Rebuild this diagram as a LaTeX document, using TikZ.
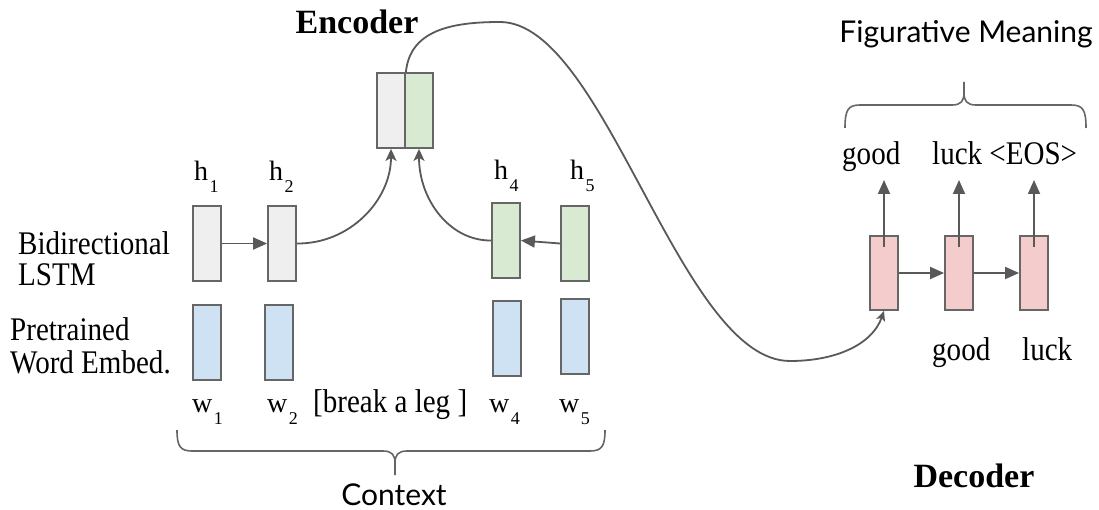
\documentclass[tikz,border=0pt]{standalone}
\usepackage{fontspec}
\setmainfont{Liberation Serif}
\newfontfamily\tallserif[FakeStretch=0.88]{Liberation Serif}
\newfontfamily\labelsans{Lato}
\usetikzlibrary{arrows.meta}

\definecolor{edgegray}{HTML}{666666}
\definecolor{linegray}{HTML}{595959}
\definecolor{fwdfill}{HTML}{EFEFEF}
\definecolor{bwdfill}{HTML}{D9EAD3}
\definecolor{embfill}{HTML}{CFE2F3}
\definecolor{decfill}{HTML}{F4CCCC}

\newcommand\lowsub[1]{\kern1.5pt\raisebox{-12pt}{\fontsize{18}{18}\selectfont #1}}

\tikzset{
  cell/.style={draw=edgegray, line width=1.8pt, inner sep=0pt,
               minimum width=28pt, minimum height=75pt},
  fwdcell/.style={cell, fill=fwdfill},
  bwdcell/.style={cell, fill=bwdfill},
  embcell/.style={cell, fill=embfill},
  deccell/.style={cell, fill=decfill, minimum height=74pt},
  flow/.style={draw=linegray, line width=1.8pt,
               -{Triangle[length=14pt,width=12pt]}},
  poolarrow/.style={draw=linegray, line width=1.8pt,
               -{Stealth[length=12pt,width=11pt,inset=3pt]}},
  brace/.style={draw=edgegray, line width=1.6pt},
  sym/.style={inner sep=0pt, anchor=base west, font=\fontsize{28}{28}\selectfont},
  word/.style={inner sep=0pt, anchor=base west, font=\tallserif\fontsize{33}{33}\selectfont},
  title/.style={inner sep=0pt, anchor=base, font=\bfseries\fontsize{34}{34}\selectfont},
  caption/.style={inner sep=0pt, anchor=base, font=\labelsans\fontsize{30}{30}\selectfont},
}

\begin{document}
\begin{tikzpicture}[x=1pt, y=-1pt]
\useasboundingbox (0,0) rectangle (1099,510);

% row labels
\node[word] (bilstm1) at (18,255) {Bidirectional};
\node[word] (bilstm2) at (18,286) {LSTM};
\node[word] (embed1) at (10,340) {Pretrained};
\node[word] (embed2) at (10,373) {Word Embed.};

% hidden states
\node[fwdcell] (h1) at (207,243.5) {};
\node[fwdcell] (h2) at (282,243.5) {};
\node[bwdcell] (h4) at (506,240.5) {};
\node[bwdcell] (h5) at (575,243.5) {};

\node[sym] (h1lab) at (194,181) {h\lowsub{1}};
\node[sym] (h2lab) at (269,181) {h\lowsub{2}};
\node[sym] (h4lab) at (494,180) {h\lowsub{4}};
\node[sym] (h5lab) at (570,180) {h\lowsub{5}};

% word embeddings
\node[embcell] (w1) at (207,342.5) {};
\node[embcell] (w2) at (279,342.5) {};
\node[embcell] (w4) at (507,338.5) {};
\node[embcell] (w5) at (575,336.5) {};

\node[sym] (w1lab) at (192,412) {w\lowsub{1}};
\node[sym] (w2lab) at (267,412) {w\lowsub{2}};
\node[word] (idiom) at (313,412) {[break a leg ]};
\node[sym] (w4lab) at (489,412) {w\lowsub{4}};
\node[sym] (w5lab) at (559,412) {w\lowsub{5}};

% encoder state
\node[fwdcell] (encf) at (391,110.5) {};
\node[bwdcell] (encb) at (419,110.5) {};
\node[title] (enctitle) at (357,34) {Encoder};

% recurrent links and pooling into the encoder state
\draw[flow] (h1.east) -- (h2.west);
\draw[flow] (h5.west) -- (h4.east);
\draw[poolarrow] (h2.east) .. controls (350,244) and (391,200) .. (encf.south);
\draw[poolarrow] (h4.west) .. controls (450,241) and (419,200) .. (encb.south);

% decoder
\node[deccell] (d1) at (884,273) {};
\node[deccell] (d2) at (959,273) {};
\node[deccell] (d3) at (1034,273) {};
\node[title] (dectitle) at (974,487) {Decoder};

\coordinate (o1) at (884,180);
\coordinate (o2) at (959,180);
\coordinate (o3) at (1034,180);
\draw[flow] (d1.east) -- (d2.west);
\draw[flow] (d2.east) -- (d3.west);
\draw[flow] ([yshift=-12pt]d1.north) -- (o1);
\draw[flow] ([yshift=-12pt]d2.north) -- (o2);
\draw[flow] ([yshift=-12pt]d3.north) -- (o3);

\node[word] (out1) at (842,165) {good};
\node[word] (out2) at (932,165) {luck <EOS>};
\node[word] (in2) at (932,360) {good};
\node[word] (in3) at (1022,360) {luck};

% encoder state handed to the decoder
\draw[draw=linegray, line width=1.8pt, -{Stealth[length=10pt,width=9pt,inset=2.5pt]}]
  (encf.north east) .. controls (410,30) and (452,22) .. (500,22)
  .. controls (605,22) and (680,361) .. (790,361)
  .. controls (835,361) and (872,345) .. (d1.south);

% brace over the input context
\draw[brace] (177,430) .. controls (177,446) and (180,451) .. (192,451) -- (383,451)
  .. controls (392,451) and (395,455) .. (395,463) -- (395,475);
\draw[brace] (605,430) .. controls (605,446) and (602,451) .. (590,451) -- (407,451)
  .. controls (398,451) and (395,455) .. (395,463);
\node[caption] (context) at (394,505) {Context};

% brace over the generated meaning
\draw[brace] (845,128) .. controls (845,110) and (848,105) .. (860,105) -- (952,105)
  .. controls (961,105) and (964,101) .. (964,93) -- (964,82);
\draw[brace] (1086,128) .. controls (1086,110) and (1083,105) .. (1071,105) -- (976,105)
  .. controls (967,105) and (964,101) .. (964,93);
\node[caption] (meaning) at (966,43) {Figurative Meaning};
\end{tikzpicture}
\end{document}
